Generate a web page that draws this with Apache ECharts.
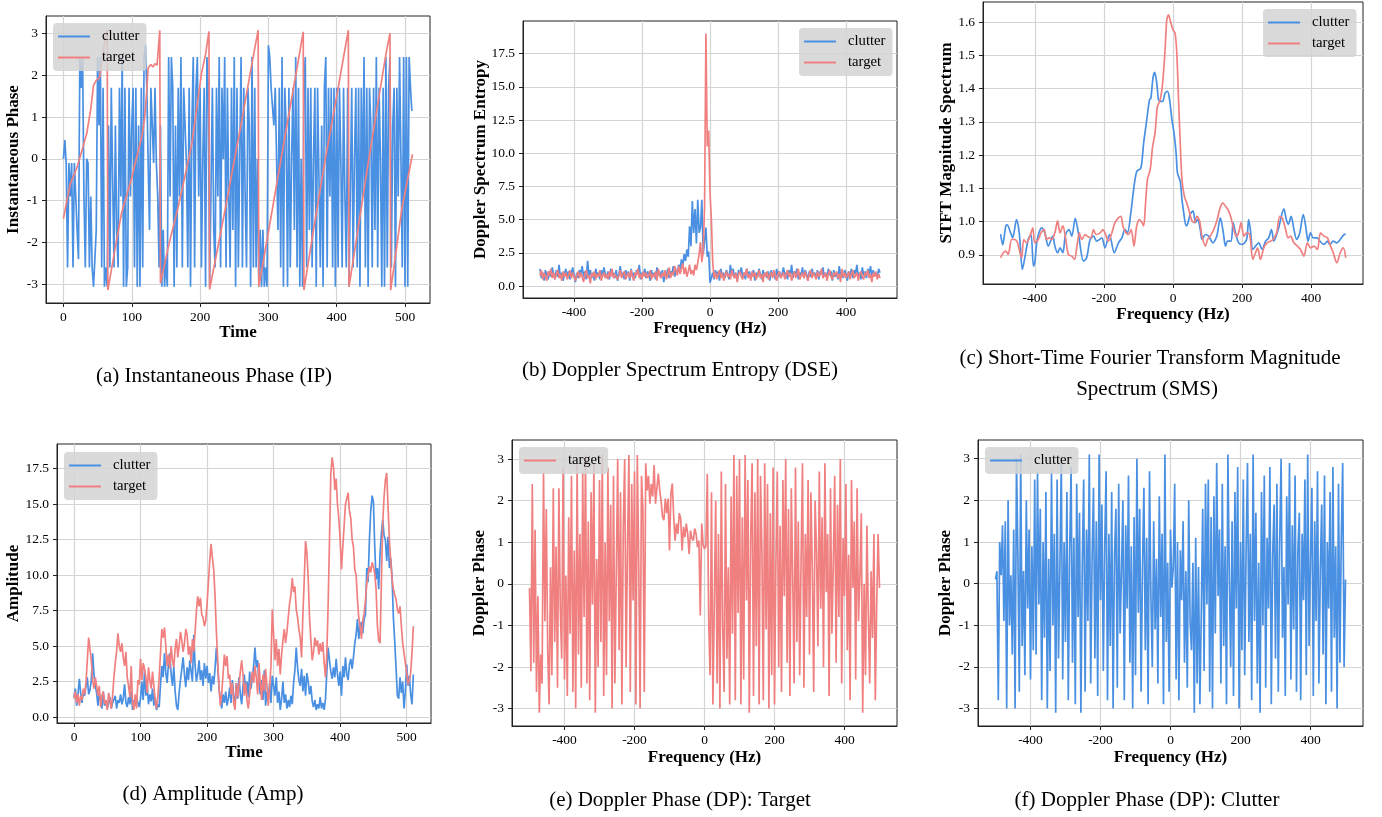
<!DOCTYPE html>
<html><head><meta charset="utf-8">
<script src="https://cdn.jsdelivr.net/npm/echarts@6/dist/echarts.min.js"></script>
<style>html,body{margin:0;padding:0;background:#fff}#c{width:1382px;height:817px}</style>
</head><body><div id="c"></div>
<script>
const FONT = "'Liberation Serif','Times New Roman',serif";
const BLUE = '#4a90e2', RED = '#f08080';

// ---------- tick labels ----------
const timeTicks = [0,100,200,300,400,500];
const freqTicks = [-400,-200,0,200,400];
const phaseTicks = [-3,-2,-1,0,1,2,3];
const dseTicks = [0,2.5,5,7.5,10,12.5,15,17.5];
const smsTicks = [0.9,1.0,1.1,1.2,1.3,1.4,1.5,1.6];
const ampTicks = [0,2.5,5,7.5,10,12.5,15,17.5];

// ---------- (a) Instantaneous Phase: clutter sampled every 2 time steps ----------
const ipStep = 2;
const ipClutter = [
0,0.45,-0.1,-2.6,-0.1, -0.9,-0.1,-2.6,-0.1,-0.9, -1.7,-2.4,2.44,1.7,2.44, -0.9,-2.6,0,-0.1,-2.6,
-0.9,-2.6,-3.06,-2.4,-1.7, 2.44,0.8,2.44,-2.6,1.7, -3.06,-2.6,-3.06,0.8,-2.6, 1.7,1.7,-2.6,0.8,-1.7,
-2.6,1.7,-0.9,2.44,-3.06, 1.7,-3.06,-2.6,1.7,-0.9, 0.8,1.7,-2.6,1.7,-3.06, 0.8,-3.06,1.7,-2.6,2.44,
2.72,1.7,-0.1,-1.7,1.7, 0.8,-0.1,1.7,-0.1,-0.9, -2.6,0.8,-3.06,-1.7,-3.06, -2.4,-3.06,2.44,-0.9,2.44,
1.7,-3.06,0.8,-2.6,1.7, -0.9,2.44,-2.6,1.7,0.8, -0.1,-2.6,1.7,-3.06,0.8, 2.44,-2.6,1.7,2.44,-0.9,
1.7,-2.6,0,1.7,-3.06, 2.44,1.7,-3.06,-3.06,1.7, -1.7,-2.6,1.7,-0.9,2.44, -2.6,1.7,0,2.44,-2.6,
1.7,-0.9,-2.6,1.7,-1.7, 2.44,-3.06,1.7,-2.6,0, 2.44,-2.6,1.7,-0.9,-2.6, 1.7,0.8,-3.06,2.44,-2.6,
1.7,-2.6,0,-3.06,-1.7, -3.06,-1.7,-3.06,-2.6,-3.06, 2.72,2.44,1.7,1.7,0.8, 1.7,0,-1.7,1.7,-2.6,
2.44,-3.06,1.7,0.8,-3.06, 1.7,-2.6,0,1.7,-1.7, 2.44,-2.6,1.7,-3.06,0, -3.06,1.7,2.44,-2.6,1.7,
-1.7,1.7,-2.6,0,1.7, -3.06,1.7,1.7,-2.6,0.8, -3.06,1.7,2.44,-2.6,1.7, -0.9,1.7,-2.6,1.7,-3.06,
1.7,-2.6,1.7,0,-2.6, 1.7,-0.9,-2.6,1.7,-3.06, -3.06,1.7,-2.6,0,1.7, -2.6,1.7,-3.06,1.7,-0.9,
2.44,-2.6,1.7,-3.06,1.7, 0.8,-2.6,1.7,-1.7,2.44, -2.6,1.7,0,-3.06,1.7, -3.06,2.44,-2.6,1.7,2.44,
-2.6,0.8,1.7,-3.06,1.7, -0.9,2.44,0,-2.6,2.44, -3.06,2.44,-3.06,2.44,1.7, 1.15
];
const ipTarget = [
[0,-1.43],[5,-1.0],[10,-0.6],[20,-0.2],[27,0.2],[34,0.6],[40,1.2],[44,1.76],[48,1.88],[53,1.95],[57,2.4],[61,2.88],[64,3.1],
[65,-3.14],[75,-2.2],[85,-1.3],[92,-0.9],[100,-0.45],[108,0.1],[115,0.55],[119,1.0],[122,1.64],[124,2.18],[128,2.26],[131,2.2],[134,2.28],[137,2.24],[141,3.08],
[142,-2.98],[155,-2.0],[168,-1.15],[178,-0.4],[188,0.37],[195,1.2],[202,2.04],[208,2.5],[213,3.05],
[214,-3.12],[225,-2.2],[238,-1.1],[251,0.05],[262,1.0],[275,2.2],[285,3.08],
[286,-3.06],[300,-1.75],[314,-0.43],[326,0.7],[340,2.0],[351,3.04],
[352,-3.14],[367,-1.6],[383,-0.03],[400,1.5],[417,3.08],
[418,-3.06],[432,-1.6],[446,-0.11],[462,1.5],[472,2.5],[478,3.01],
[479,-3.14],[487,-2.2],[495,-1.23],[503,-0.55],[511,0.11]
];

// ---------- (b) Doppler Spectrum Entropy: frequency from -500 Hz in 4 Hz steps ----------
const freqStart = -500, freqStep = 4;
const dseClutter = [
1.3,0.6,1.0,0.4,1.2,0.8,0.5,1.1,0.7,1.4, 0.9,0.5,1.2,0.7,1.6,0.6,1.0,0.4,0.9,1.3,
0.7,1.1,0.5,0.9,1.4,0.8,0.3,1.0,0.6,1.2, 0.9,1.5,0.7,1.1,0.5,1.9,0.8,1.2,0.6,1.0,
0.4,1.3,0.8,1.0,0.5,1.2,0.7,1.4,0.9,0.6, 1.1,0.5,1.3,0.8,1.0,0.6,1.2,0.4,0.9,1.5,
0.7,1.0,0.5,1.2,0.8,1.1,0.4,1.3,0.7,1.0, 0.6,1.2,0.9,1.6,0.5,1.0,0.8,1.3,0.6,1.1,
0.9,0.4,1.2,0.7,1.0,0.5,1.4,0.8,1.1,0.6, 1.2,0.3,1.0,0.8,1.3,0.6,1.1,0.9,1.5,0.7,
1.2,1.0,1.6,1.3,2.0,1.5,2.4,1.9,2.75,2.2, 4.5,3.0,6.4,4.0,5.8,3.2,6.5,4.0,4.4,6.5,
2.4,3.4,4.4,2.2,2.6,0.25,0.6,1.0,0.5,1.2, 0.8,1.1,0.4,1.3,0.7,1.0,0.6,1.2,0.9,0.5,
1.6,0.8,1.3,0.6,1.0,0.4,1.2,0.9,1.4,0.7, 1.0,0.5,1.3,0.8,1.1,0.6,0.9,1.2,0.4,1.0,
0.7,1.3,0.9,0.5,1.2,0.8,1.0,0.6,1.1,0.4, 1.2,0.8,1.0,0.5,1.3,0.7,1.1,0.6,0.9,1.4,
0.8,1.0,0.5,1.2,0.7,1.6,0.6,1.1,0.9,1.3, 0.5,1.0,0.8,1.4,0.6,1.2,0.9,0.4,1.1,0.7,
1.3,0.8,1.0,0.6,1.2,0.5,1.1,0.9,1.4,0.7, 1.0,0.6,1.3,0.8,1.1,0.4,1.2,0.7,1.0,0.5,
1.5,0.8,1.0,0.6,1.2,0.9,0.4,1.1,0.8,1.3, 0.6,1.2,0.9,1.6,0.7,1.0,0.5,1.4,0.8,1.1,
0.6,1.3,0.9,1.5,0.7,1.2,0.8,1.0,0.6,1.3, 1.0
];
const dseTarget = [
0.8,1.2,0.5,1.0,0.7,0.4,1.1,0.8,1.3,0.6, 1.0,0.5,0.9,1.2,0.6,0.9,0.4,1.1,0.7,1.0,
0.5,0.8,1.2,0.6,1.0,0.9,0.4,0.8,1.1,0.6, 1.0,0.7,0.3,0.9,1.2,0.6,0.8,0.2,1.0,0.7,
1.1,0.5,0.9,0.7,1.2,0.4,0.8,1.0,0.6,0.9, 0.5,1.1,0.7,1.3,0.6,0.9,1.0,0.5,0.8,1.2,
0.6,0.9,1.1,0.5,0.8,1.0,0.6,1.2,0.7,0.4, 1.0,0.8,1.3,0.6,0.9,0.5,1.1,0.7,1.0,0.6,
0.8,1.2,0.5,0.9,0.7,1.1,0.4,1.3,0.8,0.6, 1.0,0.7,1.2,0.5,0.9,1.4,0.6,1.0,0.8,1.5,
1.2,0.8,1.5,0.9,1.3,1.7,0.9,1.4,0.7,1.1, 1.6,0.9,1.2,0.8,1.6,1.2,1.75,2.4,3.3,1.8,
2.6,6.0,19.0,10.5,11.7,7.0,5.0,1.8,0.6,1.0, 0.5,0.9,1.2,0.6,1.0,0.4,0.8,1.1,0.7,0.9,
0.5,1.2,0.8,0.6,1.0,0.3,0.9,1.1,0.7,0.5, 1.0,0.8,1.3,0.6,0.9,0.4,1.1,0.7,1.0,0.5,
0.8,1.2,0.6,0.9,0.3,1.0,0.7,1.1,0.5,0.8, 1.0,0.6,1.2,0.8,0.4,0.9,1.1,0.6,0.8,1.0,
0.5,0.9,1.2,0.7,1.0,0.4,0.8,1.1,0.6,0.9, 1.3,0.5,0.8,1.0,0.6,1.1,0.7,0.4,0.9,1.2,
0.6,1.0,0.8,0.5,1.1,0.7,0.9,1.3,0.6,0.8, 1.0,0.4,0.9,1.2,0.7,0.5,1.0,0.8,1.1,0.6,
0.9,0.3,1.3,0.7,1.0,0.6,0.8,1.1,0.5,0.9, 1.2,0.6,0.8,1.0,0.4,0.9,1.1,0.7,0.5,1.0,
0.8,1.2,0.6,0.9,0.3,1.0,0.7,1.1,0.5,0.9, 0.6
];

// ---------- (c) STFT Magnitude Spectrum: [frequency, value] ----------
const smsClutter = [
[-499,0.962],[-493,0.93],[-484,0.987],[-480,0.99],[-470,0.966],[-464,0.951],[-453,1.006],[-445,0.966],[-436,0.856],[-429,0.891],
[-419,0.946],[-411,0.961],[-404,0.866],[-400,0.876],[-393,0.946],[-380,0.981],[-371,0.966],[-361,0.926],[-348,0.956],[-342,0.926],
[-334,0.906],[-327,0.921],[-319,0.906],[-311,0.961],[-301,0.976],[-293,0.956],[-283,1.01],[-274,0.966],[-259,0.881],[-250,0.891],
[-240,0.946],[-230,0.956],[-221,0.941],[-206,0.951],[-197,0.921],[-184,0.961],[-170,0.906],[-158,0.936],[-148,0.951],[-139,0.976],
[-132,0.966],[-122,1.027],[-114,1.096],[-105,1.151],[-93,1.161],[-85,1.236],[-76,1.306],[-68,1.367],[-64,1.372],[-58,1.432],
[-53,1.449],[-47,1.417],[-42,1.367],[-37,1.362],[-30,1.362],[-23,1.387],[-16,1.392],[-10,1.367],[-3,1.306],[3,1.266],
[9,1.206],[13,1.146],[21,1.121],[26,1.066],[31,1.027],[38,0.987],[42,0.992],[50,1.022],[58,1.032],[65,0.997],
[71,1.007],[79,0.976],[84,0.946],[94,0.961],[103,0.956],[116,0.936],[123,0.946],[128,0.961],[137,1.011],[145,0.971],
[152,0.926],[158,0.941],[168,0.941],[174,0.997],[181,0.966],[190,0.936],[200,0.931],[213,0.946],[219,1.006],[224,0.976],
[231,0.916],[239,0.926],[248,0.936],[258,0.916],[268,0.941],[277,0.951],[285,0.976],[292,0.941],[300,0.961],[306,0.981],
[321,1.038],[328,1.006],[334,0.992],[342,1.016],[350,0.976],[358,0.946],[367,0.966],[377,1.021],[384,0.987],[391,0.941],
[398,0.966],[406,0.951],[417,0.951],[425,0.941],[437,0.931],[447,0.941],[454,0.931],[464,0.941],[474,0.936],[484,0.946],
[495,0.961],[500,0.962]
];
const smsTarget = [
[-499,0.891],[-491,0.906],[-484,0.911],[-477,0.901],[-467,0.946],[-458,0.946],[-450,0.936],[-443,0.906],[-438,0.891],[-432,0.946],
[-424,0.936],[-414,0.956],[-406,0.981],[-400,0.936],[-390,0.946],[-382,0.966],[-373,0.976],[-366,0.946],[-358,0.951],[-351,0.946],
[-342,0.966],[-334,1.002],[-327,0.966],[-319,0.987],[-311,0.951],[-303,0.901],[-293,0.896],[-285,0.886],[-278,0.926],[-271,0.966],
[-264,0.946],[-254,0.961],[-248,0.956],[-238,0.951],[-230,0.976],[-223,0.961],[-211,0.966],[-203,0.976],[-197,0.966],[-187,0.941],
[-177,0.966],[-168,0.997],[-158,1.011],[-151,1.016],[-145,0.987],[-139,0.971],[-129,0.961],[-121,0.976],[-113,0.926],[-105,0.987],
[-97,1.006],[-90,0.997],[-85,0.987],[-80,1.046],[-74,1.126],[-66,1.156],[-59,1.226],[-52,1.266],[-45,1.347],[-37,1.367],
[-30,1.417],[-23,1.517],[-18,1.607],[-13,1.622],[-6,1.597],[0,1.577],[6,1.567],[11,1.507],[16,1.367],[21,1.236],
[26,1.126],[33,1.076],[40,1.056],[48,1.027],[55,1.002],[62,0.997],[69,1.016],[77,1.002],[84,0.956],[94,0.926],
[100,0.946],[108,0.956],[118,0.976],[128,1.006],[135,1.036],[144,1.056],[152,1.046],[161,1.032],[168,1.011],[176,0.976],
[183,0.956],[190,0.966],[197,0.997],[205,0.956],[213,0.966],[222,0.961],[231,0.886],[239,0.906],[245,0.921],[253,0.886],
[263,0.921],[272,0.936],[282,0.941],[290,0.946],[300,0.966],[309,1.016],[316,1.011],[326,0.976],[333,0.951],[340,0.956],
[350,0.936],[360,0.926],[369,0.916],[379,0.896],[389,0.936],[398,0.921],[408,0.926],[418,0.916],[427,0.966],[437,0.956],
[447,0.951],[456,0.926],[464,0.906],[474,0.876],[484,0.906],[493,0.921],[500,0.891]
];

// ---------- (d) Amplitude: sampled every 2 time steps ----------
const ampStep = 2;
const ampClutter = [
1.4,2.0,0.8,1.6,2.7,1.7,1.0,1.8,1.5,2.2, 2.8,1.6,1.9,2.6,4.5,3.0,2.2,1.7,0.8,1.7,
1.2,0.6,1.8,0.8,1.2,0.6,1.0,1.4,0.6,1.0, 0.9,1.5,0.6,1.2,1.0,1.6,0.9,1.3,2.3,1.0,
0.7,1.4,0.9,1.8,0.5,1.2,0.8,1.3,1.0,0.7, 1.3,2.5,1.2,3.3,1.5,2.2,0.9,1.6,1.1,2.0,
0.8,1.4,0.5,0.9,0.7,2.3,3.6,2.8,4.5,3.1, 2.4,3.8,4.5,3.0,2.2,3.6,1.8,0.8,0.5,1.7,
2.6,3.4,4.2,3.0,2.1,3.5,2.6,4.0,3.2,2.5, 5.8,3.6,2.5,3.1,4.0,2.6,3.3,2.2,3.8,2.7,
3.6,2.4,3.1,1.8,2.9,2.3,3.4,4.9,3.6,2.0, 1.2,0.6,1.6,1.0,1.8,0.8,1.3,2.1,1.0,2.6,
1.5,0.8,2.4,1.3,2.8,1.6,0.9,2.2,3.0,1.8, 2.5,1.4,3.2,2.0,2.8,3.6,4.9,3.5,4.0,2.4,
1.6,2.6,1.2,3.3,0.8,1.8,1.3,2.4,1.0,2.9, 2.2,1.5,2.8,1.0,1.8,0.5,1.3,2.5,1.0,1.6,
0.6,1.2,0.7,1.5,0.9,2.4,3.3,4.9,3.5,2.6, 2.2,3.4,1.8,2.9,1.5,3.1,2.5,1.6,2.2,1.1,
0.7,1.2,0.5,0.9,0.6,1.4,0.6,1.0,0.5,1.3, 3.2,4.9,4.0,3.2,2.7,3.5,2.8,4.1,3.0,2.2,
3.2,1.5,3.6,2.8,4.2,3.0,2.6,3.7,4.1,3.4, 4.2,5.2,5.8,6.9,5.5,6.4,6.7,5.9,6.9,7.2,
10.5,9.5,12.5,14.5,15.6,15.2,12.0,9.7,10.5,9.0, 11.5,13.0,13.9,12.8,12.5,11.0,12.7,10.5,11.2,9.9,
7.0,5.4,3.5,1.5,1.3,2.8,1.7,2.5,0.6,1.8, 3.7,2.2,2.9,1.6,0.9,3.0
];
const ampTarget = [
1.3,1.8,1.0,1.6,0.8,1.5,1.2,2.0,1.6,2.4, 4.0,5.6,4.8,4.0,2.6,2.0,2.8,2.2,1.5,2.2,
0.7,1.5,1.8,0.9,1.2,0.5,1.7,1.2,0.6,1.5, 2.8,3.8,4.6,5.9,5.0,4.6,5.2,4.2,3.6,4.6,
2.8,2.2,1.4,3.6,1.0,0.5,1.6,0.6,2.6,2.3, 4.1,2.6,3.8,3.4,2.8,1.7,3.5,2.6,2.0,3.2,
2.2,1.2,0.6,1.4,2.8,4.5,6.2,5.6,6.3,5.0, 3.6,4.4,3.4,5.0,4.0,3.5,4.8,5.5,4.2,5.0,
6.0,5.4,4.6,5.2,6.2,5.8,4.4,5.0,3.8,5.5, 4.6,6.0,7.5,8.5,7.8,8.4,7.2,7.0,6.4,6.8,
8.0,9.5,11.0,12.2,11.2,10.4,8.5,6.0,4.0,2.0, 0.8,1.6,3.0,4.4,3.6,4.3,2.7,3.0,1.6,2.4,
1.0,0.5,2.4,1.4,2.2,3.2,4.0,3.0,1.5,2.4, 1.2,0.6,1.6,2.6,3.2,2.4,3.6,2.8,1.6,3.8,
2.4,1.2,3.0,1.8,3.4,2.2,0.8,2.0,3.6,7.6, 5.8,4.0,5.5,3.6,4.8,3.0,4.4,5.4,6.2,5.2,
6.0,7.0,8.0,8.6,9.8,8.8,9.2,7.6,7.0,6.2, 5.6,4.2,7.2,9.6,12.4,11.6,9.8,7.0,5.4,4.0,
4.6,5.6,5.0,5.4,4.4,5.2,4.6,5.3,3.8,2.8, 4.5,8.0,12.5,17.2,18.3,17.6,16.0,16.8,15.0,14.0,
12.5,10.4,12.0,13.5,15.0,15.4,15.8,14.5,14.0,12.5, 12.0,10.4,10.0,8.3,7.0,6.4,5.5,6.8,7.3,8.2,
9.4,10.0,10.6,10.2,10.9,10.6,10.1,9.0,6.4,5.4, 5.2,9.5,13.7,15.5,16.7,17.2,14.8,12.5,11.0,9.7,
9.0,8.6,8.3,7.6,7.3,7.8,6.4,5.2,4.5,3.8, 3.1,2.3,2.6,3.1,4.5,6.4
];

// ---------- (e)/(f) Doppler Phase: frequency from -500 Hz in 4 Hz steps ----------
const dpTarget = [
-0.1,-2.1,2.4,-1.9,1.3,-2.6,-0.3,-3.1,-1.7,-2.4, 2.7,-0.9,1.8,-1.6,-2.9,0.4,-2.2,2.3,-1.4,0.9,
-2.5,2.3,-0.6,-1.8,2.8,-2.3,0.2,-2.7,1.6,-1.2, 2.6,-2.6,0.8,-3.0,2.9,-1.7,1.2,-2.5,2.7,-0.8,
3.1,-2.4,1.5,-2.8,2.2,-0.5,2.9,-3.1,0.6,-2.0, 2.5,-1.4,3.1,-2.7,1.0,-2.2,2.8,-0.9,1.9,-3.0,
2.6,-2.4,0.3,3.0,-1.6,2.2,-2.9,1.4,3.0,-2.0, 0.9,3.1,-2.6,2.4,-0.4,2.7,-2.9,3.1,0.6,-3.0,
2.6,1.8,-2.6,2.9,
2.25,2.6,1.93,2.4,2.1,2.86,1.93,2.3,2.65,2.25, 2.0,1.61,1.53,2.05,1.7,2.05,0.8,2.17,2.41,1.61,
1.04,1.45,1.2,1.7,1.57,0.8,1.37,1.12,1.45,1.2, 0.72,1.28,1.1,1.04,1.33,1.2,0.88,1.04,-0.76,1.45,
0.96,0.84,0.9,
2.65,-0.88,
-2.2,2.2,-2.9,-0.5,2.0,-2.4,1.2,-3.0,2.7,-1.0,-2.6,
2.4,-1.8,0.4,-2.9,2.1,-1.2,3.1,-2.8,2.6,-0.7, 3.0,-2.9,1.6,-2.3,3.1,-0.4,2.5,-3.1,1.1,2.9,
-2.7,2.2,-1.5,3.0,-2.9,2.6,0.8,-2.8,2.9,-1.1, 2.4,-3.0,1.7,-2.2,2.8,-2.9,0.5,2.7,-2.0,1.4,
-2.6,2.5,-0.3,3.0,-1.9,1.8,-2.7,2.3,0.2,-2.4, 2.8,-1.4,1.5,-2.2,0.6,2.9,-2.5,1.2,-0.8,2.5,
-1.7,2.2,0.4,-2.6,2.0,0.8,-1.5,2.7,-0.6,1.6, -2.0,2.9,-0.2,1.2,-2.7,2.3,-1.2,0.5,2.6,-1.9,
1.9,-0.8,3.0,-2.4,1.1,-0.3,2.4,-1.6,0.7,-2.8, 2.5,-0.1,1.5,-2.3,2.3,-0.9,0.2,1.7,-3.1,0.0,
-2.2,1.4,-0.7,-2.4,0.3,-1.3,1.2,-2.8,-0.5,1.2, -0.1
];
const dpClutter = [
0.1,0.3,-2.8,1.0,0.2,1.4,-0.9,1.5,-3.0,2.0, -1.0,0.2,-1.7,1.3,-3.0,3.0,0.7,-2.6,3.1,-1.5,
0.3,-2.2,2.0,-0.6,1.3,-2.3,0.9,-1.6,2.5,-1.7, 2.7,-0.5,1.8,-2.8,1.0,-1.3,2.2,-3.0,0.6,-2.1,
2.7,-1.0,1.2,-3.1,2.5,-1.8,0.4,2.9,-2.3,1.0, -1.4,2.2,-2.8,0.8,2.8,-1.9,1.1,-2.9,2.4,-0.8,
1.7,-3.1,0.5,2.5,-2.6,1.3,-0.9,3.1,-2.4,0.6, 2.3,-1.8,1.5,-2.7,3.1,-0.4,1.9,-2.1,0.9,2.7,
-2.8,1.2,-1.5,2.2,-3.0,0.7,1.8,-2.5,2.4,-1.2, 0.3,2.0,-2.8,1.4,-0.6,2.6,-1.9,0.9,-3.0,1.6,
-2.2,3.0,-0.7,1.8,-2.6,0.4,2.3,-1.6,1.1,-2.9, 2.7,-0.3,-2.0,1.5,-1.1,0.6,-2.4,2.1,-0.8,1.2,
-2.9,3.1,-1.4,0.5,-2.6,1.3,-0.1,0.4,2.4,-2.3, 1.0,-2.8,0.8,-0.4,1.5,-1.9,0.3,-2.5,2.0,-0.9,
-1.6,0.5,-3.1,1.1,-2.4,0.4,-2.9,-0.7,1.8,-2.1, 2.4,-0.5,2.5,-2.6,1.6,-3.0,2.1,-1.2,2.9,-0.3,
1.3,-2.4,2.4,-1.5,0.9,-2.9,3.1,0.2,-2.0,1.5, -2.7,2.2,-0.6,2.8,-3.0,1.0,-1.6,2.5,-2.2,0.8,
2.9,-1.4,1.2,-2.8,3.1,-0.9,1.7,-2.4,0.5,-3.1, 2.2,-1.0,2.6,-2.5,1.1,-0.6,2.8,-2.9,0.7,1.9,
-1.8,2.4,-2.6,1.0,3.0,-1.3,0.4,-2.7,2.1,-0.5, 2.9,-2.3,1.4,-1.1,2.6,-2.6,0.8,1.7,-2.8,1.2,
-0.4,2.5,-2.2,3.1,-1.5,0.6,2.3,-2.7,1.5,-0.9, 2.7,-2.4,0.3,1.9,-1.7,2.6,-2.9,1.0,-0.6,2.2,
-2.6,2.8,-1.3,0.9,-3.0,2.4,-1.9,1.1,2.9,-2.0, 0.1
];

// ---------- build ----------
const stepData = (arr, start, step) => arr.map((v, i) => [start + i * step, v]);

const grids = [
  {left: 46,  top: 16,  width: 384, height: 287},
  {left: 523, top: 21,  width: 374, height: 277},
  {left: 983, top: 2,   width: 380, height: 282},
  {left: 57,  top: 444, width: 374, height: 279},
  {left: 512, top: 440, width: 385, height: 286},
  {left: 978, top: 440, width: 385, height: 286}
].map(g => Object.assign(g, {show: true, borderColor: '#222', borderWidth: 1, containLabel: false, outerBoundsMode: 'none'}));

const nameStyle = {fontFamily: FONT, fontWeight: 'bold', fontSize: 17, color: '#000'};
const labStyle = (dec) => ({fontFamily: FONT, fontSize: 13.5, color: '#000',
  formatter: v => dec ? Number(v).toFixed(1) : String(v)});

function mkX(gi, min, max, ticks, name, gap) {
  return {type: 'value', gridIndex: gi, min, max, name, nameLocation: 'middle', nameGap: gap,
    nameMoveOverlap: false, nameTextStyle: nameStyle,
    axisLine: {show: true, onZero: false, lineStyle: {color: '#222', width: 1}},
    axisTick: {show: true, customValues: ticks, length: 4, lineStyle: {color: '#222'}},
    axisLabel: Object.assign({customValues: ticks, margin: 7}, labStyle(false)),
    splitLine: {show: true, lineStyle: {color: '#d4d4d4', width: 1.2}}};
}
function mkY(gi, min, max, ticks, name, gap, dec) {
  return {type: 'value', gridIndex: gi, min, max, name, nameLocation: 'middle', nameGap: gap,
    nameMoveOverlap: false, nameTextStyle: nameStyle,
    axisLine: {show: true, onZero: false, lineStyle: {color: '#222', width: 1}},
    axisTick: {show: true, customValues: ticks, length: 4, lineStyle: {color: '#222'}},
    axisLabel: Object.assign({customValues: ticks, margin: 8}, labStyle(dec)),
    splitLine: {show: true, lineStyle: {color: '#d4d4d4', width: 1.2}}};
}

const xAxis = [
  mkX(0, -25.55, 536.55, timeTicks, 'Time', 21),
  mkX(1, -550, 550, freqTicks, 'Frequency (Hz)', 22),
  mkX(2, -550, 550, freqTicks, 'Frequency (Hz)', 22),
  mkX(3, -25.55, 536.55, timeTicks, 'Time', 21),
  mkX(4, -550, 550, freqTicks, 'Frequency (Hz)', 23),
  mkX(5, -550, 550, freqTicks, 'Frequency (Hz)', 23)
];
const yAxis = [
  mkY(0, -3.45, 3.42, phaseTicks, 'Instantaneous Phase', 24, false),
  mkY(1, -0.9, 19.95, dseTicks, 'Doppler Spectrum Entropy', 34, true),
  mkY(2, 0.812, 1.661, smsTicks, 'STFT Magnitude Spectrum', 28, true),
  mkY(3, -0.42, 19.24, ampTicks, 'Amplitude', 35, true),
  mkY(4, -3.42, 3.46, phaseTicks, 'Doppler Phase', 24, false),
  mkY(5, -3.42, 3.45, phaseTicks, 'Doppler Phase', 24, false)
];

function line(name, gi, data, color, smooth) {
  return {type: 'line', name, xAxisIndex: gi, yAxisIndex: gi, data, symbol: 'none', showSymbol: false,
    smooth: smooth || false, lineStyle: {color, width: 1.7}, itemStyle: {color},
    animation: false, clip: true, emphasis: {disabled: true}, silent: true};
}

const series = [
  line('clutter', 0, stepData(ipClutter, 0, ipStep), BLUE),
  line('target', 0, ipTarget, RED),
  line('clutter', 1, stepData(dseClutter, freqStart, freqStep), BLUE),
  line('target', 1, stepData(dseTarget, freqStart, freqStep), RED),
  line('clutter', 2, smsClutter, BLUE, 0.3),
  line('target', 2, smsTarget, RED, 0.3),
  line('clutter', 3, stepData(ampClutter, 0, ampStep), BLUE),
  line('target', 3, stepData(ampTarget, 0, ampStep), RED),
  line('target', 4, stepData(dpTarget, freqStart, freqStep), RED),
  line('clutter', 5, stepData(dpClutter, freqStart, freqStep), BLUE)
];

function mkLegend(names, left, top) {
  return {data: names, orient: 'vertical', left, top, icon: 'rect', itemWidth: 32, itemHeight: 2, itemGap: 6,
    padding: [6, 7, 6, 5], backgroundColor: 'rgba(212,212,212,0.85)', borderRadius: 4,
    selectedMode: false, textStyle: {fontFamily: FONT, fontSize: 14.7, color: '#000', padding: [0, 0, 0, 7]}};
}
const legend = [
  mkLegend(['clutter', 'target'], 53, 23),
  mkLegend(['clutter', 'target'], 799, 28),
  mkLegend(['clutter', 'target'], 1263, 9),
  mkLegend(['clutter', 'target'], 64, 452),
  mkLegend(['target'], 519, 447),
  mkLegend(['clutter'], 985, 447)
];

const captions = [
  ['(a) Instantaneous Phase (IP)', 214, 376],
  ['(b) Doppler Spectrum Entropy (DSE)', 680, 370],
  ['(c) Short-Time Fourier Transform Magnitude', 1150, 358],
  ['Spectrum (SMS)', 1147, 389],
  ['(d) Amplitude (Amp)', 213, 794],
  ['(e) Doppler Phase (DP): Target', 680, 800],
  ['(f) Doppler Phase (DP): Clutter', 1147, 800]
];
const graphic = captions.map(c => ({type: 'text', x: c[1], y: c[2], silent: true,
  style: {text: c[0], fontFamily: FONT, fontSize: 21, fill: '#000', align: 'center', verticalAlign: 'middle'}}));

const chart = echarts.init(document.getElementById('c'), null, {renderer: 'canvas'});
chart.setOption({animation: false, backgroundColor: '#fff', grid: grids, xAxis, yAxis, series, legend, graphic, tooltip: {show: false}});
</script>
</body></html>
